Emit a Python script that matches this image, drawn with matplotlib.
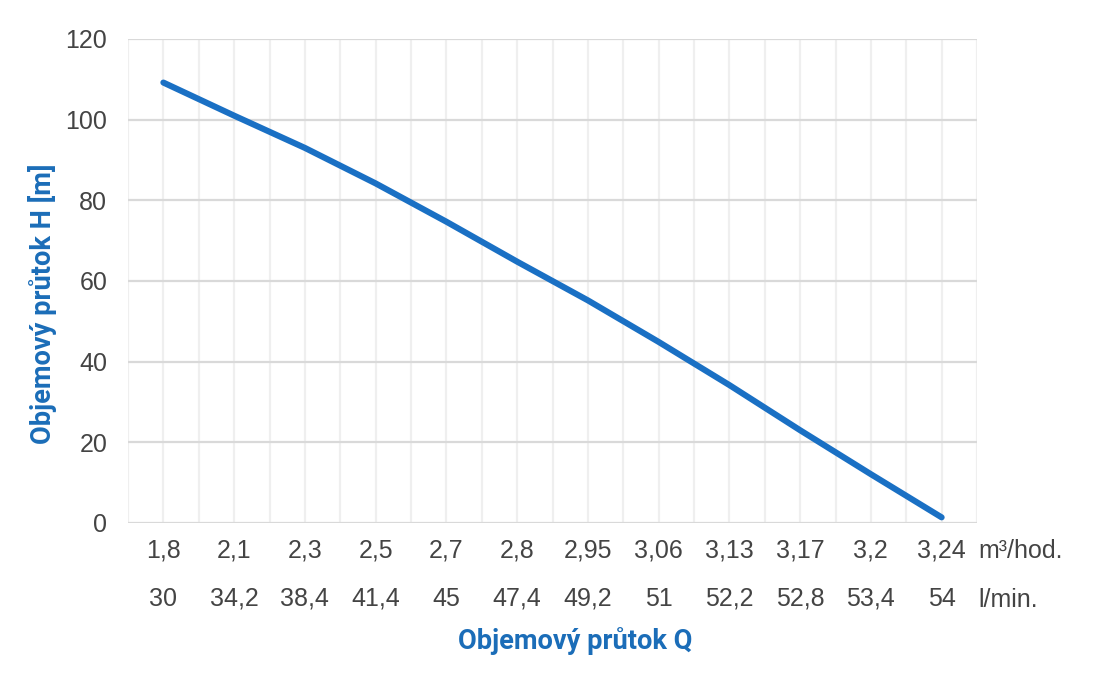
import numpy as np
import matplotlib.pyplot as plt

# data
q_m3h = ["1,8", "2,1", "2,3", "2,5", "2,7", "2,8", "2,95", "3,06", "3,13", "3,17", "3,2", "3,24"]
q_lmin = ["30", "34,2", "38,4", "41,4", "45", "47,4", "49,2", "51", "52,2", "52,8", "53,4", "54"]
head_m = [109.2, 101.0, 93.0, 84.2, 74.7, 64.8, 55.2, 44.9, 34.2, 23.0, 12.1, 1.4]
y_ticks = [0, 20, 40, 60, 80, 100, 120]

blue = '#1A70C4'
title_blue = '#1B6DB8'
grey = '#444444'

plt.rcParams['font.family'] = ['Liberation Sans', 'DejaVu Sans']

fig = plt.figure(figsize=(11, 6.73), dpi=100)
ax = fig.add_axes([128/1100, 1-523/673, (977-128)/1100, (523-39)/673])

x = np.arange(len(head_m))
ax.plot(x, head_m, color=blue, lw=4.4, solid_capstyle='round', zorder=3)

ax.set_xlim(-0.5, len(head_m) - 0.5)
ax.set_ylim(0, 120)
ax.set_yticks(y_ticks)
ax.set_xticks(x, q_m3h)
ax.set_xticks(np.arange(-0.5, len(head_m), 1.0), minor=True)

ax.grid(axis='y', which='major', color='#d9d9d9', lw=1.6)
ax.grid(axis='x', which='both', color='#efefef', lw=1.6)
ax.set_axisbelow(True)
for s in ax.spines.values():
    s.set_visible(False)

ax.tick_params(axis='y', length=0, pad=15, labelsize=18, labelcolor=grey)
ax.tick_params(axis='x', which='both', length=0, pad=11, labelsize=18, labelcolor=grey)

# second row of flow values
sec = ax.secondary_xaxis('bottom')
sec.set_xticks(x, q_lmin)
sec.tick_params(length=0, pad=46, labelsize=18, labelcolor=grey)
for s in sec.spines.values():
    s.set_visible(False)

ax.text(1.002, -0.058, "m³/hod.", transform=ax.transAxes, ha='left', va='center',
        fontsize=18, color=grey)
ax.text(1.002, -0.159, "l/min.", transform=ax.transAxes, ha='left', va='center',
        fontsize=18, color=grey)

fig.text(575/1100, 1-641/673, "Objemový průtok Q", ha='center', va='center',
         fontsize=19.6, fontweight='bold', color=title_blue, family=['Roboto', 'DejaVu Sans'])
fig.text(43/1100, 1-304/673, "Objemový průtok H [m]", ha='center', va='center', rotation=90,
         fontsize=19.6, fontweight='bold', color=title_blue, family=['Roboto', 'DejaVu Sans'])

fig.savefig('out.png', dpi=100)
